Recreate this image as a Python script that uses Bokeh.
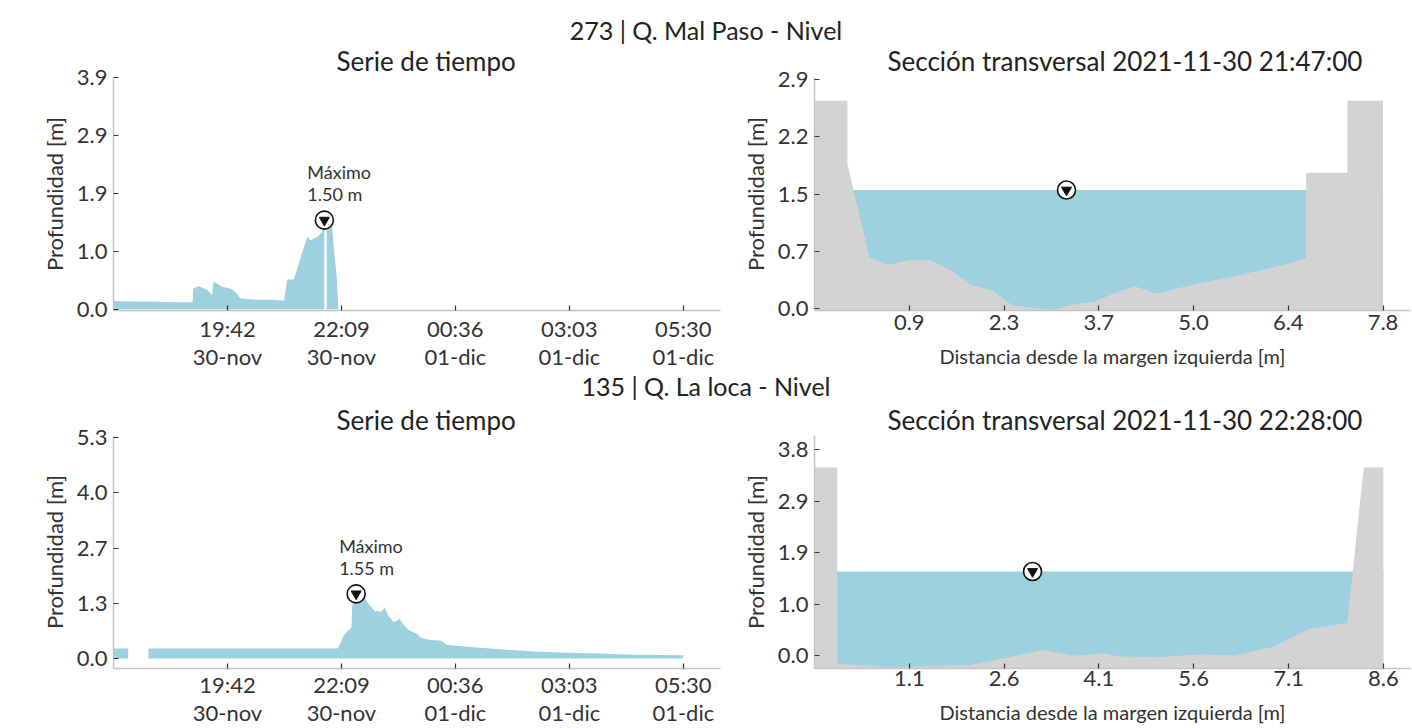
import numpy as np
import pandas as pd
from bokeh.plotting import figure
from bokeh.models import FixedTicker, Div, Range1d, Spacer
from bokeh.layouts import column, row
from bokeh.embed import file_html
from bokeh.resources import INLINE
from bokeh.core.properties import value

FONT = "Lato"
WATER = "#9dd1e0"
GROUND = "#d3d3d3"
TXT = "#333333"
nan = float("nan")
DAY0 = "2021-11-30"

# ---------------- Station 273 ----------------
st1_title = "273 | Q. Mal Paso - Nivel"
st1_ts_title = "Serie de tiempo"
st1_sec_title = "Sección transversal 2021-11-30 21:47:00"
st1_times = ["17:15", "17:40", "18:05", "18:30", "18:57", "18:58", "19:05", "19:16",
             "19:22", "19:24", "19:35", "19:46", "19:52", "19:59", "20:20", "20:40",
             "20:55", "20:57", "20:59", "21:07", "21:10", "21:18", "21:25", "21:29",
             "21:38", "21:44", "21:47", "21:48", "21:50", "21:52", "21:57", "21:59",
             "22:03", "22:05"]
st1_depth = [0.14, 0.13, 0.13, 0.12, 0.12, 0.35, 0.39, 0.33,
             0.24, 0.47, 0.38, 0.35, 0.29, 0.18, 0.16, 0.16,
             0.15, 0.32, 0.50, 0.50, 0.60, 0.94, 1.22, 1.16,
             1.22, 1.30, 1.50, nan, 1.45, 1.44, 1.42, 1.05,
             0.54, 0.04]
st1_max_time = "21:47"
st1_max_depth = 1.50
st1_ts_yticks = [0.0, 0.975, 1.95, 2.925, 3.9]
st1_ts_ylabels = ["0.0", "1.0", "1.9", "2.9", "3.9"]
st1_ts_yrange = (-0.02, 3.9)

st1_dist = [-0.48, 0.0, 0.0, 0.32, 0.58, 0.90, 1.22, 1.51, 1.82, 2.11, 2.40, 2.98,
            3.28, 3.60, 3.96, 4.19, 4.50, 5.12, 5.71, 6.43, 6.68, 6.68, 7.28, 7.28, 7.80]
st1_bed = [2.63, 2.63, 1.83, 0.65, 0.55, 0.61, 0.61, 0.48, 0.29, 0.23, 0.04, -0.02,
           0.05, 0.09, 0.22, 0.28, 0.19, 0.32, 0.42, 0.57, 0.64, 1.72, 1.72, 2.63, 2.63]
st1_level = 1.50
st1_marker_x = 3.19
st1_sec_xticks = [0.9, 2.28, 3.66, 5.04, 6.42, 7.8]
st1_sec_xlabels = ["0.9", "2.3", "3.7", "5.0", "6.4", "7.8"]
st1_sec_yticks = [0.0, 0.725, 1.45, 2.175, 2.9]
st1_sec_ylabels = ["0.0", "0.7", "1.5", "2.2", "2.9"]
st1_sec_xrange = (-0.48, 8.2)
st1_sec_yrange = (-0.025, 2.925)

# ---------------- Station 135 ----------------
st2_title = "135 | Q. La loca - Nivel"
st2_ts_title = "Serie de tiempo"
st2_sec_title = "Sección transversal 2021-11-30 22:28:00"
st2_times = ["17:15", "17:34", "17:45", "18:00", "19:00", "20:00", "21:00", "22:03",
             "22:05", "22:09", "22:12", "22:17", "22:20", "22:22", "22:23", "22:26",
             "22:28", "22:31", "22:35", "22:40", "22:43", "22:46", "22:50", "22:53",
             "22:56", "22:59", "23:02", "23:05", "23:09", "23:13", "23:16", "23:20",
             "23:24", "23:29", "23:34", "23:38", "23:42", "23:46", "23:51", "23:59",
             "00:08", "00:17", "00:25", "00:51", "01:34", "02:17", "03:00", "03:43",
             "04:26", "05:30"]
st2_depth = [0.24, 0.24, nan, 0.24, 0.24, 0.24, 0.24, 0.24,
             0.26, 0.42, 0.55, 0.66, 0.71, 0.74, 1.27, 1.45,
             1.55, 1.50, 1.47, 1.43, 1.33, 1.27, 1.18, 1.12,
             1.15, 1.11, 1.15, 1.23, 1.03, 0.96, 0.87, 0.90,
             0.95, 0.82, 0.71, 0.66, 0.63, 0.60, 0.51, 0.46,
             0.44, 0.43, 0.33, 0.28, 0.22, 0.17, 0.14, 0.12,
             0.09, 0.08]
st2_max_time = "22:28"
st2_max_depth = 1.55
st2_ts_yticks = [0.0, 1.325, 2.65, 3.975, 5.3]
st2_ts_ylabels = ["0.0", "1.3", "2.7", "4.0", "5.3"]
st2_ts_yrange = (-0.24, 5.35)

st2_dist = [-0.40, -0.04, -0.04, 0.75, 2.05, 3.21, 3.68, 3.84, 4.16, 4.43, 5.06, 5.69,
            6.25, 6.85, 7.43, 8.03, 8.29, 8.60]
st2_bed = [3.47, 3.47, -0.15, -0.22, -0.18, 0.10, 0.0, 0.0, 0.04, -0.02, -0.03, 0.02,
           0.0, 0.16, 0.49, 0.60, 3.47, 3.47]
st2_level = 1.55
st2_marker_x = 3.05
st2_sec_xticks = [1.1, 2.6, 4.1, 5.6, 7.1, 8.6]
st2_sec_xlabels = ["1.1", "2.6", "4.1", "5.6", "7.1", "8.6"]
st2_sec_yticks = [0.0, 0.95, 1.9, 2.85, 3.8]
st2_sec_ylabels = ["0.0", "1.0", "1.9", "2.9", "3.8"]
st2_sec_xrange = (-0.40, 9.03)
st2_sec_yrange = (-0.24, 4.06)

# shared time axis
ts_start, ts_end = "17:15", "06:18"
ts_ticks = ["19:42", "22:09", "00:36", "03:03", "05:30"]
ts_tick_labels = ["19:42\n30-nov", "22:09\n30-nov", "00:36\n01-dic", "03:03\n01-dic", "05:30\n01-dic"]

Y_LABEL = "Profundidad [m]"
X_SEC_LABEL = "Distancia desde la margen izquierda [m]"


def to_ms(hhmm):
    out = []
    for s in hhmm:
        h, m = int(s[:2]), int(s[3:])
        d = pd.Timestamp(DAY0) + pd.Timedelta(days=1 if h < 12 else 0)
        out.append(int((d + pd.Timedelta(hours=h, minutes=m)).value // 10**6))
    return out


def style(p, standoff, title_offset, tick_standoff):
    p.outline_line_color = None
    p.grid.visible = False
    p.background_fill_color = "white"
    p.border_fill_color = None
    for ax in (p.xaxis[0], p.yaxis[0]):
        ax.axis_line_color = "#c4c4c4"
        ax.axis_line_width = 1.5
        ax.major_tick_line_color = TXT
        ax.major_tick_line_width = 1.2
        ax.major_tick_in = 5
        ax.major_tick_out = 0
        ax.minor_tick_line_color = None
        ax.major_label_text_font = FONT
        ax.major_label_text_font_size = "22px"
        ax.major_label_text_color = TXT
        ax.major_label_text_line_height = 1.05
        ax.major_label_standoff = 6
        ax.axis_label_text_font = FONT
        ax.axis_label_text_font_style = "normal"
        ax.axis_label_text_color = TXT
    p.xaxis[0].major_label_standoff = tick_standoff
    p.yaxis[0].axis_label = Y_LABEL
    p.yaxis[0].axis_label_text_font_size = "22px"
    p.yaxis[0].axis_label_standoff = 6
    p.title.text_font = FONT
    p.title.text_font_size = "26px"
    p.title.text_font_style = "normal"
    p.title.text_color = "#222222"
    p.title.align = "left"
    p.title.offset = title_offset
    p.title.standoff = standoff


def make_fig(title, width, height, borders, xr, yr, title_offset, standoff, tick_standoff):
    l, r, t, b = borders
    p = figure(width=width, height=height, title=title, toolbar_location=None,
               output_backend="svg", x_range=Range1d(*xr), y_range=Range1d(*yr),
               min_border_left=l, min_border_right=r, min_border_top=t, min_border_bottom=b)
    style(p, standoff, title_offset, tick_standoff)
    return p


def set_ticks(axis, ticks, labels):
    axis.ticker = FixedTicker(ticks=list(ticks))
    axis.major_label_overrides = {k: v for k, v in zip(ticks, labels)}


def draw_series(p, times, depth):
    xs = to_ms(times)
    seg_x, seg_y = [], []
    for x, y in zip(xs + [None], depth + [nan]):
        if x is None or np.isnan(y):
            if len(seg_x) > 1:
                p.varea(x=seg_x, y1=[0] * len(seg_x), y2=seg_y, fill_color=WATER)
            seg_x, seg_y = [], []
        else:
            seg_x.append(x)
            seg_y.append(y)


def max_marker(p, x, y):
    p.scatter([x], [y], marker="circle", size=18, fill_color="white",
              line_color="#111111", line_width=1.6)
    p.scatter([x], [y], marker="inverted_triangle", size=10, fill_color="#111111",
              line_color="#111111")


def time_series(title, height, borders, standoff, tick_standoff, times, depth, mt, md,
                yticks, ylabels, yr):
    xr = tuple(to_ms([ts_start, ts_end]))
    p = make_fig(title, 738, height, borders, xr, yr, 223, standoff, tick_standoff)
    draw_series(p, times, depth)
    mx = to_ms([mt])[0]
    max_marker(p, mx, md)
    p.text(x=[mx], y=[md], text=["Máximo\n%.2f m" % md], x_offset=-17, y_offset=-15,
           text_baseline="bottom", text_align="left", text_font=value(FONT),
           text_font_size="18px", text_color=TXT, text_line_height=1.0)
    set_ticks(p.xaxis[0], to_ms(ts_ticks), ts_tick_labels)
    set_ticks(p.yaxis[0], yticks, ylabels)
    return p


def section(title, height, borders, standoff, tick_standoff, dist, bed, level, mkx,
            xticks, xlabels, yticks, ylabels, xr, yr):
    p = make_fig(title, 674, height, borders, xr, yr, 73, standoff, tick_standoff)
    ybot = yr[0]
    p.varea(x=[dist[0], dist[-1]], y1=[ybot, ybot], y2=[level, level], fill_color=WATER)
    p.varea(x=dist, y1=[ybot] * len(dist), y2=bed, fill_color=GROUND)
    max_marker(p, mkx, level)
    set_ticks(p.xaxis[0], xticks, xlabels)
    set_ticks(p.yaxis[0], yticks, ylabels)
    p.xaxis[0].axis_label = X_SEC_LABEL
    p.xaxis[0].axis_label_text_font_size = "20px"
    p.xaxis[0].axis_label_standoff = 11
    return p


def header(text, h):
    return Div(text=text, width=1412, height=h, margin=(0, 0, 0, 0),
               styles={"text-align": "center", "font-family": FONT, "font-size": "25px",
                       "color": "#222222", "line-height": "%dpx" % h, "width": "1412px",
                       "overflow": "visible", "white-space": "nowrap", "z-index": "5"})


p1 = time_series(st1_ts_title, 335, (113, 18, 38, 64), 1, 4, st1_times, st1_depth,
                 st1_max_time, st1_max_depth, st1_ts_yticks, st1_ts_ylabels, st1_ts_yrange)
p2 = section(st1_sec_title, 335, (76, 2, 38, 64), 1, 4, st1_dist, st1_bed, st1_level,
             st1_marker_x, st1_sec_xticks, st1_sec_xlabels, st1_sec_yticks, st1_sec_ylabels,
             st1_sec_xrange, st1_sec_yrange)
p3 = time_series(st2_ts_title, 330, (113, 18, 37, 58), 0, 2, st2_times, st2_depth,
                 st2_max_time, st2_max_depth, st2_ts_yticks, st2_ts_ylabels, st2_ts_yrange)
p4 = section(st2_sec_title, 330, (76, 2, 37, 58), 0, 2, st2_dist, st2_bed, st2_level,
             st2_marker_x, st2_sec_xticks, st2_sec_xlabels, st2_sec_yticks, st2_sec_ylabels,
             st2_sec_xrange, st2_sec_yrange)

layout = column(Spacer(width=1412, height=21), header(st1_title, 18), row(p1, p2),
                header(st2_title, 24), row(p3, p4))

open("out.html", "w").write(file_html(layout, INLINE))
